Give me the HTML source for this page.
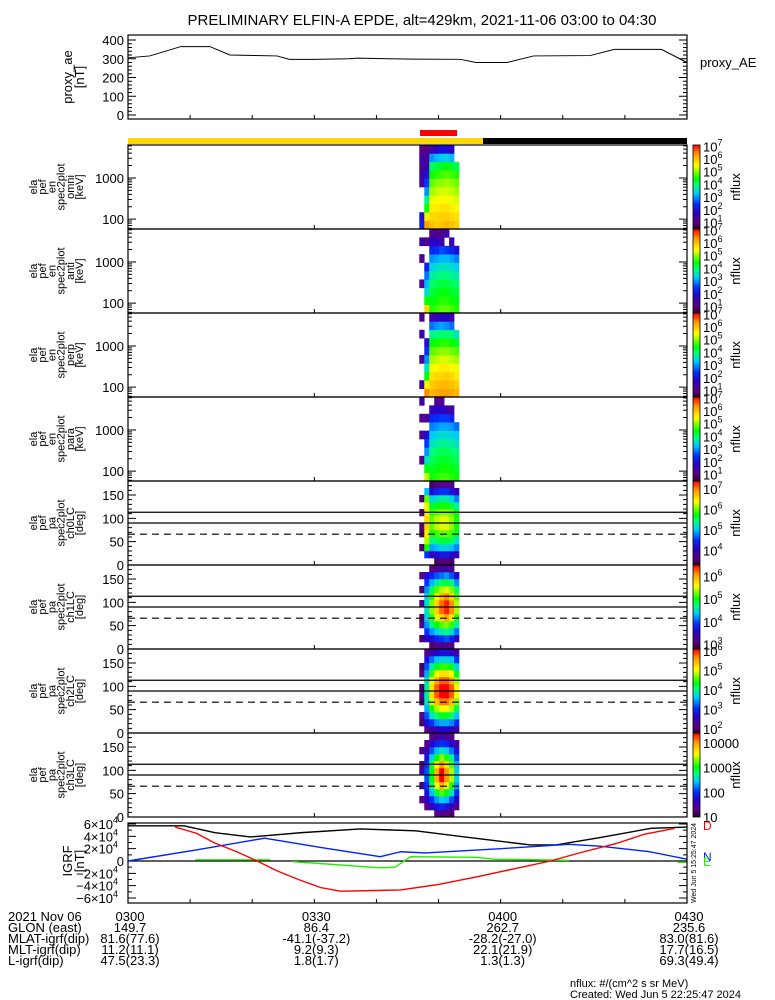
<!DOCTYPE html>
<html><head><meta charset="utf-8"><style>
html,body{margin:0;padding:0;background:#fff;}
svg{display:block;font-family:"Liberation Sans",sans-serif;}
</style></head><body>
<svg id="c" width="775" height="1000" viewBox="0 0 775 1000">
<defs>
<linearGradient id="cmap" x1="0" y1="1" x2="0" y2="0">
<stop offset="0" stop-color="rgb(40,0,50)"/><stop offset="0.08" stop-color="rgb(90,0,130)"/>
<stop offset="0.2" stop-color="rgb(40,0,200)"/><stop offset="0.3" stop-color="rgb(0,50,255)"/>
<stop offset="0.42" stop-color="rgb(0,200,255)"/><stop offset="0.52" stop-color="rgb(0,255,120)"/>
<stop offset="0.6" stop-color="rgb(0,255,0)"/><stop offset="0.75" stop-color="rgb(255,255,0)"/>
<stop offset="0.88" stop-color="rgb(255,160,0)"/><stop offset="1" stop-color="rgb(255,0,0)"/>
</linearGradient>
</defs>
<text x="422" y="25" font-size="15" text-anchor="middle">PRELIMINARY ELFIN-A EPDE, alt=429km, 2021-11-06 03:00 to 04:30</text>
<text x="700" y="67" font-size="13">proxy_AE</text>
<rect x="420" y="130" width="37" height="6" fill="#ff0000"/>
<rect x="128" y="138" width="355" height="6" fill="#ffd700"/>
<rect x="483" y="138" width="204" height="6" fill="#000"/>
<text x="570" y="987" font-size="11">nflux: #/(cm^2 s sr MeV)</text>
<text x="570" y="998" font-size="11">Created: Wed Jun  5 22:25:47 2024</text>
<g id="footer" font-size="13"></g>
</svg>
<script>
// ---------- data ----------
const aeTimes = [0,3.5,8.5,13.2,16.4,24,26,30,35.5,37,46,53.5,56,61,65.3,74.4,78.3,85.9,90];
const aeValues = [305,315,365,365,320,315,297,297,300,303,298,297,280,280,315,317,350,350,280];
const colStart = [46.9,47.7,48.5,49.3,50.1,50.9,51.7,52.5];
const colWidth = 0.8;
const energyCenters = [72,116,186,297,476,760,1220,1950,3120,5000];
const paCenters = [7.5,22.5,37.5,52.5,67.5,82.5,97.5,112.5,127.5,142.5,157.5,172.5];
const omniFlux = [
[2.2,2,null,null,null,1.3,1.5,1.2,1.5,1],
[6.3,5.6,4.5,3.8,3,2.5,2,1.5,1.3,1],
[6.0,5.8,5.6,5.4,5.1,4.8,4.5,4.0,3.0,1.5],
[5.9,5.8,5.6,5.4,5.2,5.0,4.6,4.2,3.2,1.8],
[6.0,5.9,5.7,5.5,5.3,5.0,4.7,4.3,3.3,2.0],
[6.1,5.9,5.7,5.5,5.3,5.1,4.8,4.4,3.4,2.0],
[6.0,5.8,5.6,5.4,5.2,5.0,4.7,4.3,3.2,1.8],
[5.9,5.7,5.5,5.3,5.1,4.9,4.6,4.1,null,null]];
const antiFlux = [
[null,null,null,1.2,null,null,1.2,null,1.5,null],
[5.8,4.5,3.5,3.2,2.8,2.2,null,null,1.2,null],
[4.6,4.4,4.2,4.0,3.7,3.4,3.0,2.3,1.8,1.2],
[4.7,4.5,4.3,4.1,3.8,3.5,3.1,2.4,1.8,1.2],
[4.8,4.6,4.4,4.2,3.9,3.6,3.2,2.6,1.5,1.2],
[4.8,4.6,4.4,4.2,3.9,3.6,3.2,2.5,null,1.5],
[4.7,4.5,4.3,4.1,3.8,3.5,3.1,2.3,1.5,null],
[4.6,4.4,4.2,4.0,3.7,3.4,2.9,2.0,null,null]];
const perpFlux = [
[null,1.5,null,null,1.3,null,null,1.5,null,1.2],
[6.4,5.5,4.4,3.6,3.0,2.4,2.0,null,null,null],
[6.1,5.9,5.7,5.4,5.1,4.8,4.4,3.8,2.8,1.5],
[6.2,6.0,5.8,5.5,5.2,4.9,4.5,3.9,3.0,1.6],
[6.3,6.1,5.8,5.6,5.3,5.0,4.6,4.0,3.1,1.8],
[6.3,6.1,5.9,5.6,5.3,5.0,4.6,4.0,3.0,1.8],
[6.2,6.0,5.8,5.5,5.2,4.9,4.5,3.9,2.8,1.5],
[6.1,5.9,5.6,5.4,5.1,4.8,4.3,3.6,null,null]];
const paraFlux = [
[null,null,1.2,null,null,1.3,null,1.2,null,1.5],
[5.2,4.4,3.6,3.0,2.5,2.0,null,1.2,null,null],
[4.5,4.3,4.1,3.9,3.6,3.3,2.9,2.3,1.6,null],
[4.6,4.4,4.2,4.0,3.7,3.4,3.0,2.4,1.8,1.2],
[4.7,4.5,4.3,4.1,3.8,3.5,3.1,2.5,1.8,1.2],
[4.7,4.5,4.3,4.1,3.8,3.5,3.1,2.5,1.6,null],
[4.6,4.4,4.2,4.0,3.7,3.4,3.0,2.3,1.4,null],
[4.5,4.3,4.1,3.9,3.6,3.3,2.8,null,null,null]];
const ch0Flux = [
[null,null,3.5,null,3.5,3.6,null,3.6,null,3.5,null,null],
[null,4.5,5.8,6.2,6.5,6.6,6.6,6.5,6.3,6.0,5.0,null],
[null,4.0,4.9,5.4,5.8,6.0,6.0,5.9,5.6,5.1,4.2,3.5],
[3.5,4.2,5.0,5.5,5.9,6.2,6.2,6.0,5.7,5.2,4.4,3.6],
[3.6,4.3,5.1,5.6,6.0,6.3,6.3,6.1,5.8,5.3,4.5,3.7],
[3.6,4.3,5.1,5.6,6.0,6.3,6.3,6.1,5.8,5.3,4.5,3.7],
[3.5,4.2,5.0,5.5,5.9,6.1,6.1,6.0,5.6,5.1,4.3,3.6],
[null,4.0,4.8,5.2,5.6,5.8,5.8,5.7,5.3,4.8,4.0,null]];
const ch1Flux = [
[null,3.0,null,3.2,3.0,null,3.2,null,3.0,null,3.1,null],
[null,3.5,3.9,4.2,4.4,4.5,4.5,4.4,4.2,3.9,3.6,null],
[3.0,3.6,4.2,4.7,5.1,5.3,5.3,5.1,4.8,4.3,3.8,3.1],
[3.1,3.8,4.4,5.0,5.5,5.8,5.8,5.6,5.2,4.6,4.0,3.2],
[3.2,3.9,4.6,5.2,5.8,6.2,6.2,5.9,5.4,4.8,4.1,3.3],
[3.2,4.0,4.7,5.3,6.0,6.4,6.4,6.1,5.5,4.9,4.2,3.3],
[3.1,3.8,4.5,5.1,5.7,6.1,6.1,5.8,5.3,4.7,4.0,3.2],
[null,3.5,4.1,4.6,5.1,5.4,5.4,5.2,4.8,4.2,3.6,null]];
const ch2Flux = [
[null,2.0,2.2,null,2.0,2.3,2.0,null,2.1,2.0,null,null],
[2.2,2.8,3.2,3.5,3.8,3.9,3.9,3.8,3.5,3.2,2.8,2.2],
[2.4,3.1,3.8,4.4,4.9,5.2,5.2,5.0,4.5,3.9,3.3,2.5],
[2.6,3.4,4.1,4.8,5.4,5.8,5.8,5.5,5.0,4.3,3.6,2.7],
[2.7,3.5,4.3,5.0,5.7,6.1,6.1,5.8,5.2,4.5,3.7,2.8],
[2.7,3.5,4.3,5.0,5.7,6.1,6.1,5.8,5.2,4.5,3.7,2.8],
[2.6,3.4,4.1,4.8,5.4,5.8,5.8,5.5,5.0,4.3,3.6,2.7],
[2.4,3.0,3.6,4.2,4.7,5.0,5.0,4.8,4.3,3.7,3.1,2.4]];
const ch3Flux = [
[null,null,1.3,null,1.4,null,1.5,1.3,null,1.4,null,null],
[null,1.3,1.6,1.8,2.0,2.1,2.1,2.0,1.8,1.5,1.3,null],
[null,1.6,2.0,2.4,2.8,3.0,3.0,2.9,2.5,2.1,1.7,1.3],
[1.3,1.8,2.3,2.9,3.5,3.9,3.9,3.6,3.0,2.4,1.9,1.4],
[1.4,1.9,2.5,3.2,3.9,4.4,4.4,4.0,3.3,2.6,2.0,1.5],
[1.3,1.8,2.4,3.0,3.6,4.0,4.0,3.7,3.1,2.5,1.9,1.4],
[1.2,1.6,2.1,2.6,3.1,3.4,3.4,3.2,2.7,2.2,1.7,1.3],
[null,1.3,1.7,2.0,2.3,2.5,2.5,2.4,2.1,1.8,1.4,null]];
const igrfDTimes = [7.6,11,14,17.5,20.8,24,27.7,31,34.2,43.9,50,56,62,68,73,78.5,83,88];
const igrfDValues = [5.5e4,4.5e4,2.9e4,1.5e4,0,-1.6e4,-3.1e4,-4.3e4,-4.9e4,-4.7e4,-3.8e4,-2.6e4,-1.3e4,0,1.4e4,2.8e4,4.3e4,5.3e4];
const igrfTotTimes = [0,9,14,19.7,28,37.4,46.3,55,64.8,68.9,76,84.2,90];
const igrfTotValues = [5.7e4,5.7e4,4.6e4,3.9e4,4.6e4,5.2e4,4.9e4,3.8e4,2.6e4,2.6e4,3.8e4,5.3e4,5.5e4];
const igrfNTimes = [0,11,22,31,40.6,43.9,47.9,60,71,76,84,90];
const igrfNValues = [0,1.8e4,3.7e4,2.2e4,0.7e4,1.5e4,1.3e4,2.0e4,2.7e4,2.4e4,1.5e4,0.3e4];
const igrfETimes1 = [10.8,22.9];
const igrfEValues1 = [0.2e4,0.2e4];
const igrfETimes2 = [26.5,40.6,43,45.5,56,59,71];
const igrfEValues2 = [-0.1e4,-1.1e4,-1.0e4,0.7e4,0.6e4,0.3e4,0.1e4];
const igrfETimes3 = [88.5,90];
const igrfEValues3 = [-0.2e4,-0.2e4];
const footerLabels = ["2021 Nov 06","GLON (east)","MLAT-igrf(dip)","MLT-igrf(dip)","L-igrf(dip)"];
const footerCols = [
["0300","149.7","81.6(77.6)","11.2(11.1)","47.5(23.3)"],
["0330","86.4","-41.1(-37.2)","9.2(9.3)","1.8(1.7)"],
["0400","262.7","-28.2(-27.0)","22.1(21.9)","1.3(1.3)"],
["0430","235.6","83.0(81.6)","17.7(16.5)","69.3(49.4)"]];
const footerTimes = [0,30,60,90];

// ---------- helpers ----------
const NS='http://www.w3.org/2000/svg';
const svg=document.getElementById('c');
function mk(tag,attrs,parent){const e=document.createElementNS(NS,tag);for(const k in attrs)e.setAttribute(k,attrs[k]);(parent||svg).appendChild(e);return e;}
const X0=128,X1=687;
const xT=t=>X0+t*(X1-X0)/90;
const stops=[[0,40,0,50],[0.08,90,0,130],[0.2,40,0,200],[0.3,0,50,255],[0.42,0,200,255],[0.52,0,255,120],[0.6,0,255,0],[0.75,255,255,0],[0.88,255,160,0],[1,255,0,0]];
function cmap(f){f=Math.max(0,Math.min(1,f));for(let i=1;i<stops.length;i++){if(f<=stops[i][0]){const a=stops[i-1],b=stops[i],u=(f-a[0])/(b[0]-a[0]);return 'rgb('+[1,2,3].map(k=>Math.round(a[k]+u*(b[k]-a[k]))).join(',')+')';}}return 'rgb(255,0,0)';}
function rotLabel(words,cy,parent){const n=words.length;const cx=56;words.forEach((w,i)=>{const x=cx+(i-(n-1)/2)*9.2+4;const t=mk('text',{x:x,y:cy,'font-size':11,'text-anchor':'middle',transform:'rotate(-90 '+x+' '+cy+')'},parent);t.textContent=w;

});}
function sup(parent,x,y,base,exp,anchor){const t=mk('text',{x:x,y:y,'font-size':13,'text-anchor':anchor||'start'},parent);const a=mk('tspan',{},t);a.textContent=base;const b=mk('tspan',{dy:-6,'font-size':9},t);b.textContent=exp;return t;}

// ---------- AE panel ----------
const aeG=mk('g',{});


const yAE=v=>115-v*75/400;
for(let v=0;v<=400;v+=20){const major=v%100===0;const y=yAE(v);const L=major?8:4;
const tk=mk('path',{d:`M${X0} ${y}h${L}M${X1} ${y}h${-L}`,stroke:'#000','stroke-width':1},aeG);


if(major){const lb=mk('text',{x:124,y:y+5,'font-size':13,'text-anchor':'end'},aeG);lb.textContent=v;

}}
for(let t=10;t<90;t+=10){const tk=mk('path',{d:`M${xT(t)} 119v-4`,stroke:'#000'},aeG);

}
const aeLine=mk('polyline',{points:aeTimes.map((t,i)=>xT(t)+','+yAE(aeValues[i])).join(' '),fill:'none',stroke:'#000','stroke-width':1},aeG);


const aeBox=mk('rect',{x:X0,y:35,width:X1-X0,height:84,fill:'none',stroke:'#000','stroke-width':1.2},aeG);


(function(){const cy=77;[['proxy_ae',72],['[nT]',84]].forEach(([w,x])=>{const t=mk('text',{x:x,y:cy,'font-size':13,'text-anchor':'middle',transform:`rotate(-90 ${x} ${cy})`},aeG);t.textContent=w;

});})();

// ---------- spectrogram panels ----------
const panels=[
{top:145,kind:'en',name:'omni',data:omniFlux,lo:0.5,hi:7.1,labs:[1,2,3,4,5,6,7]},
{top:229,kind:'en',name:'anti',data:antiFlux,lo:0.5,hi:7.1,labs:[1,2,3,4,5,6,7]},
{top:313,kind:'en',name:'perp',data:perpFlux,lo:0.5,hi:7.1,labs:[1,2,3,4,5,6,7]},
{top:397,kind:'en',name:'para',data:paraFlux,lo:0.5,hi:7.1,labs:[1,2,3,4,5,6,7]},
{top:481,kind:'pa',name:'ch0LC',data:ch0Flux,lo:3.3,hi:7.4,labs:[4,5,6,7]},
{top:565,kind:'pa',name:'ch1LC',data:ch1Flux,lo:2.8,hi:6.5,labs:[3,4,5,6]},
{top:649,kind:'pa',name:'ch2LC',data:ch2Flux,lo:1.8,hi:6.1,labs:[2,3,4,5,6]},
{top:733,kind:'pa',name:'ch3LC',data:ch3Flux,lo:1.0,hi:4.4,labs:[1,2,3,4],plain:true}];
const H=84,LE0=1.76,LE1=3.8;
panels.forEach((p,pi)=>{
const g=mk('g',{});


const B=p.top+H;
const yE=e=>B-(Math.log10(e)-LE0)/(LE1-LE0)*H;
const yP=a=>B-a*H/180;
let edges;
if(p.kind==='en'){const lc=energyCenters.map(Math.log10);edges=lc.map((l,i)=>{const lo=i===0?l-(lc[1]-lc[0])/2:(lc[i-1]+l)/2;const hi=i===lc.length-1?l+(l-lc[i-1])/2:(l+lc[i+1])/2;return [B-(lo-LE0)/(LE1-LE0)*H,B-(hi-LE0)/(LE1-LE0)*H];});}
else{edges=paCenters.map(a=>[yP(a-7.5),yP(a+7.5)]);}
p.data.forEach((col,ci)=>{const xa=xT(colStart[ci]),xb=xT(colStart[ci]+colWidth);col.forEach((v,bi)=>{if(v===null)return;const[y0,y1]=edges[bi];const ya=Math.max(p.top,Math.min(y0,y1)),yb=Math.min(B,Math.max(y0,y1));if(yb<=ya)return;
const r=mk('rect',{x:xa.toFixed(2),y:ya.toFixed(2),width:(xb-xa+0.3).toFixed(2),height:(yb-ya+0.3).toFixed(2),fill:cmap((v-p.lo)/(p.hi-p.lo))},g);

});});
if(p.kind==='en'){for(let d=1;d<=4;d++){for(let m=1;m<10;m++){const e=m*Math.pow(10,d);const y=yE(e);if(y<p.top||y>B)continue;const L=m===1?8:4;
const tk=mk('path',{d:`M${X0} ${y}h${L}M${X1} ${y}h${-L}`,stroke:'#000'},g);


if(m===1){const lb=mk('text',{x:124,y:y+5,'font-size':13,'text-anchor':'end'},g);lb.textContent=e;

}}}}
else{for(let a=0;a<=180;a+=10){const y=yP(a);const major=a%50===0;const L=major?8:4;
const tk=mk('path',{d:`M${X0} ${y}h${L}M${X1} ${y}h${-L}`,stroke:'#000'},g);


if(major&&a<=150){const lb=mk('text',{x:124,y:y+5,'font-size':13,'text-anchor':'end'},g);lb.textContent=a;

}}
[[113,''],[90,''],[66,'7,5']].forEach(([a,dash])=>{const ln=mk('line',{x1:X0,x2:X1,y1:yP(a),y2:yP(a),stroke:'#000','stroke-width':1.2,'stroke-dasharray':dash},g);

});}
for(let t=30;t<90;t+=30){const tk=mk('path',{d:`M${xT(t)} ${B}v-4`,stroke:'#000'},g);

}
const box=mk('rect',{x:X0,y:p.top,width:X1-X0,height:H,fill:'none',stroke:'#000','stroke-width':1.2},g);


rotLabel(p.kind==='en'?['ela','pef','en','spec2plot',p.name,'[keV]']:['ela','pef','pa','spec2plot',p.name,'[deg]'],p.top+H/2,g);
const cb=mk('rect',{x:693,y:p.top,width:7,height:H,fill:'url(#cmap)',stroke:'#000','stroke-width':0.8},g);


const yC=l=>B-(l-p.lo)/(p.hi-p.lo)*H;
p.labs.forEach(l=>{const y=yC(l)+5;let t;if(p.plain){t=mk('text',{x:703,y:y,'font-size':13},g);t.textContent=Math.pow(10,l);}else{t=sup(g,703,y,'10',String(l));}

});
const cyy=p.top+H/2;const nf=mk('text',{x:740,y:cyy,'font-size':13,'text-anchor':'middle',transform:`rotate(-90 740 ${cyy})`},g);nf.textContent='nflux';


});

// ---------- IGRF panel ----------
const ig=mk('g',{});


const yB=v=>861-v*37/6e4;
const IT=823,IB=903;
for(let v=-6e4;v<=6e4;v+=1e4){const y=yB(v);const major=v%2e4===0;const L=major?8:4;
const tk=mk('path',{d:`M${X0} ${y}h${L}M${X1} ${y}h${-L}`,stroke:'#000'},ig);


if(major){let t;if(v===0){t=mk('text',{x:124,y:y+5,'font-size':13,'text-anchor':'end'},ig);t.textContent='0';}else{t=mk('text',{x:118,y:y+5,'font-size':13,'text-anchor':'end'},ig);const a=mk('tspan',{},t);a.textContent=(v<0?'\u2212':'')+Math.abs(v/1e4)+'\u00d710';const b=mk('tspan',{dy:-6,'font-size':9},t);b.textContent='4';}

}}
for(let t=10;t<90;t+=10){const tk=mk('path',{d:`M${xT(t)} ${IB}v-4`,stroke:'#000'},ig);

}
const zl=mk('line',{x1:X0,x2:X1,y1:yB(0),y2:yB(0),stroke:'#000','stroke-width':1.2},ig);


function series(ts,vs,color,name){const pl=mk('polyline',{points:ts.map((t,i)=>xT(t)+','+yB(vs[i])).join(' '),fill:'none',stroke:color,'stroke-width':1.4,'stroke-linejoin':'round'},ig);

}
series(igrfTotTimes,igrfTotValues,'#000','igrf-total-line');
series(igrfNTimes,igrfNValues,'#0022ff','igrf-n-line');
series(igrfETimes1,igrfEValues1,'#22ee00','igrf-e-line');
series(igrfETimes2,igrfEValues2,'#22ee00','igrf-e-line');
series(igrfETimes3,igrfEValues3,'#22ee00','igrf-e-line');
series(igrfDTimes,igrfDValues,'#ff0000','igrf-d-line');
const ibox=mk('rect',{x:X0,y:IT,width:X1-X0,height:IB-IT,fill:'none',stroke:'#000','stroke-width':1.2},ig);


[['IGRF',72],['[nT]',84]].forEach(([w,x])=>{const t=mk('text',{x:x,y:861,'font-size':13,'text-anchor':'middle',transform:`rotate(-90 ${x} 861)`},ig);t.textContent=w;

});
[['D','#ff0000',830],['N','#0022ff',861],['E','#22ee00',866]].forEach(([s,c,y])=>{const t=mk('text',{x:703,y:y,'font-size':12,fill:c},ig);t.textContent=s;

});
const st=mk('text',{x:696,y:903,'font-size':7,transform:'rotate(-90 696 903)'},ig);st.textContent='Wed Jun  5 15:25:47 2024';



// ---------- footer ----------
const fg=document.getElementById('footer');
const rowY=[921,932,943,954,965];
footerLabels.forEach((l,i)=>{const t=mk('text',{x:8,y:rowY[i]},fg);t.textContent=l;

});
footerCols.forEach((col,ci)=>{const x=xT(footerTimes[ci])+2;col.forEach((s,i)=>{const t=mk('text',{x:x,y:rowY[i],'text-anchor':'middle'},fg);t.textContent=s;

});});
</script>
</body></html>
